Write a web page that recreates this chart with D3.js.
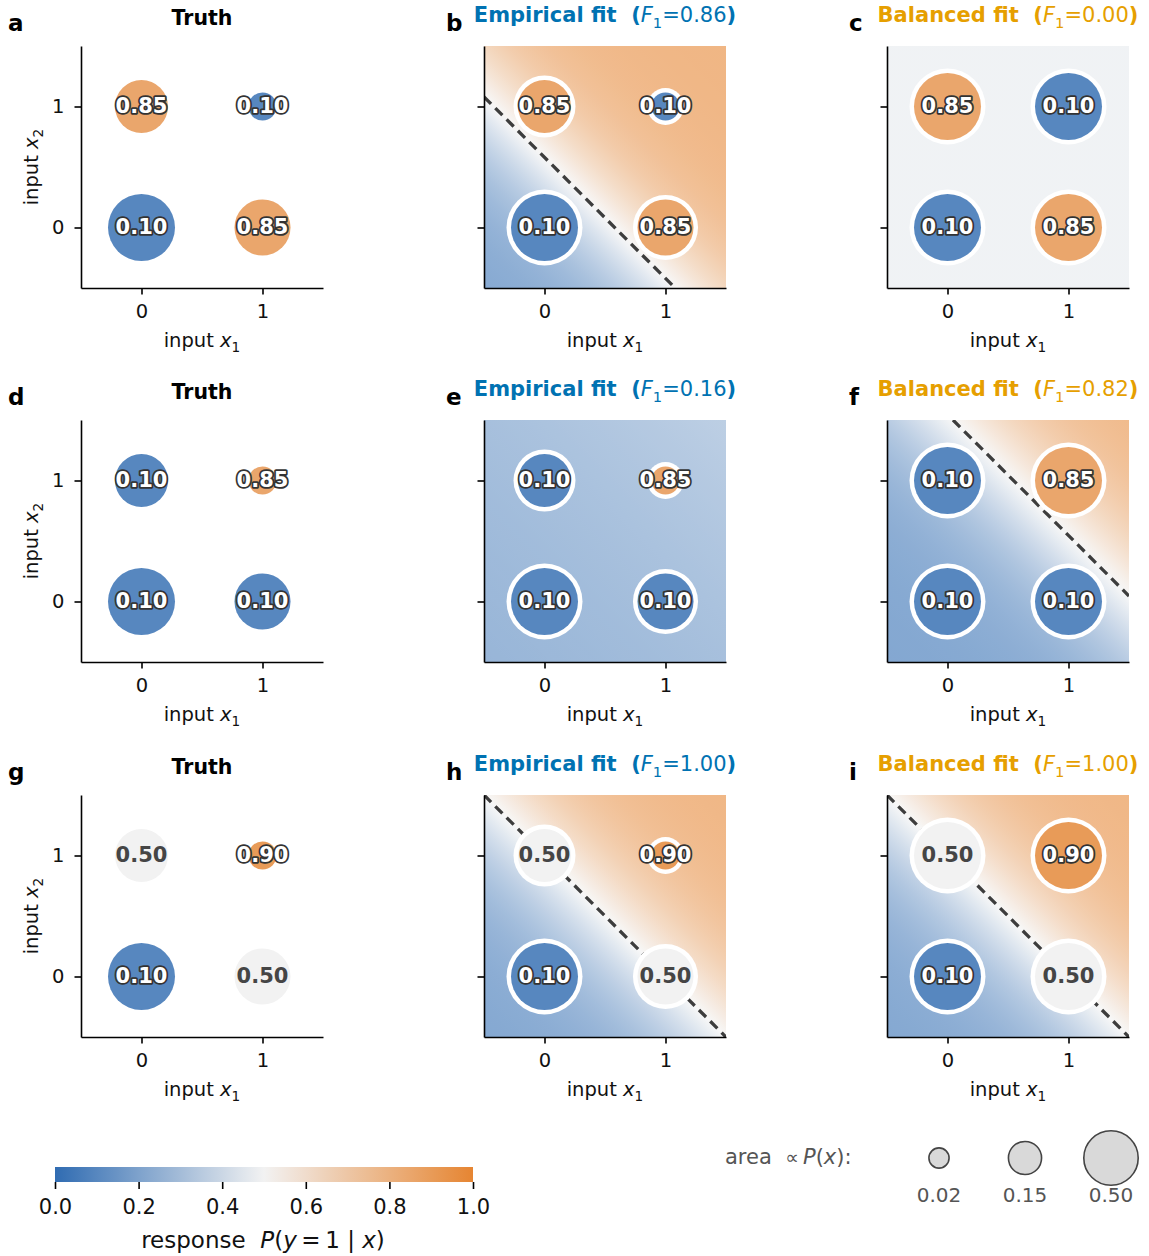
<!DOCTYPE html>
<html>
<head>
<meta charset="utf-8">
<script src="https://cdn.jsdelivr.net/npm/d3@7"></script>
<style>
  body { margin: 0; background: #fff; }
  svg text { font-family: "DejaVu Sans", sans-serif; white-space: pre; }
</style>
</head>
<body>
<svg id="chart" width="1149" height="1256"></svg>
<script>
// ---- data -------------------------------------------------------------
// the four input cells (x1, x2)
const cellX1 = [0, 0, 1, 1];
const cellX2 = [0, 1, 0, 1];
// input distribution P(x) for each cell
const cellWeight = [0.40, 0.25, 0.28, 0.07];
// true response P(y=1 | x) per cell, one array per scenario row
const truthRow1 = [0.10, 0.85, 0.85, 0.10];
const truthRow2 = [0.10, 0.10, 0.10, 0.85];
const truthRow3 = [0.10, 0.50, 0.50, 0.90];
const truthRows = [truthRow1, truthRow2, truthRow3];

const panelLetters = [["a", "b", "c"], ["d", "e", "f"], ["g", "h", "i"]];
const fitNames = ["Empirical fit", "Balanced fit"];
const fitColors = ["#0072B2", "#E69F00"];
// logistic fits p = sigmoid(intercept + slope * (x1 + x2)), per row: [empirical, balanced]
const fitIntercept = [[-1.45, -0.12], [-2.0, -3.4], [-2.3, -2.3]];
const fitSlope = [[2.5, 0.0], [0.3, 2.2], [2.3, 2.3]];
const fitF1 = [[0.86, 0.00], [0.16, 0.82], [1.00, 1.00]];

// colour bar and size legend
const colorTicks = [0, 0.2, 0.4, 0.6, 0.8, 1.0];
const sizeLegendValues = [0.02, 0.15, 0.50];

// ---- helpers ----------------------------------------------------------
const svg = d3.select("#chart");
const defs = svg.append("defs");
const cmap = d3.scaleLinear()
  .domain([0, 0.5, 1])
  .range(["rgb(48,108,178)", "rgb(242,242,242)", "rgb(230,133,50)"]);
const sigmoid = z => 1 / (1 + Math.exp(-z));

function rich(sel, parts, size) {
  let shift = 0;
  parts.forEach(p => {
    const ts = sel.append("tspan").text(p.t);
    if (p.italic) ts.attr("font-style", "italic");
    if (p.weight) ts.attr("font-weight", p.weight);
    const target = p.sub ? size * 0.28 : 0;
    if (target !== shift) { ts.attr("dy", target - shift); shift = target; }
    if (p.sub) ts.attr("font-size", size * 0.7);
  });
}

// ---- layout -----------------------------------------------------------
const colLeft = [81, 484, 887];
const rowTop = [46, 420, 795];
const side = 242;
const rMax = 33.5;
const tickFont = 19.5;

truthRows.forEach((truth, r) => {
  colLeft.forEach((L, c) => {
    const T = rowTop[r];
    const x = d3.scaleLinear().domain([-0.5, 1.5]).range([L, L + side]);
    const y = d3.scaleLinear().domain([-0.5, 1.5]).range([T + side, T]);
    const g = svg.append("g");
    const isFit = c > 0;
    const f = c - 1;

    const clipId = `clip-${r}-${c}`;
    defs.append("clipPath").attr("id", clipId)
      .append("rect").attr("x", x(-0.5)).attr("y", y(1.5))
      .attr("width", x(1.5) - x(-0.5)).attr("height", y(-0.5) - y(1.5));

    if (isFit) {
      const a = fitIntercept[r][f], k = fitSlope[r][f];
      // model response field varies only with x1 + x2: diagonal gradient
      const gid = `field-${r}-${c}`;
      const grad = defs.append("linearGradient").attr("id", gid)
        .attr("gradientUnits", "userSpaceOnUse")
        .attr("x1", x(-0.5)).attr("y1", y(-0.5))
        .attr("x2", x(1.5)).attr("y2", y(1.5));
      d3.range(0, 61).forEach(i => {
        const s = -1 + 4 * i / 60;
        grad.append("stop").attr("offset", i / 60)
          .attr("stop-color", cmap(sigmoid(a + k * s)));
      });
      g.append("rect")
        .attr("x", x(-0.5)).attr("y", y(1.5))
        .attr("width", x(1.5) - x(-0.5)).attr("height", y(-0.5) - y(1.5))
        .attr("fill", `url(#${gid})`).attr("opacity", 0.6);

      // decision boundary p = 0.5
      if (k > 0) {
        const s0 = -a / k;
        const xa = Math.max(-0.5, s0 - 1.5), xb = Math.min(1.5, s0 + 0.5);
        if (xa < xb) {
          g.append("line")
            .attr("clip-path", `url(#${clipId})`)
            .attr("x1", x(xa)).attr("y1", y(s0 - xa))
            .attr("x2", x(xb)).attr("y2", y(s0 - xb))
            .attr("stroke", "#3d3d3d").attr("stroke-width", 3.3)
            .attr("stroke-dasharray", "10,6");
        }
      }
    }

    // circles: area proportional to the weight used by each fit
    const weights = (isFit && f === 1) ? cellWeight.map(() => 0.25) : cellWeight;
    const wMax = d3.max(weights);
    const rad = d3.scaleSqrt().domain([0, wMax]).range([0, rMax]);
    const cells = d3.range(4).map(i => ({
      x1: cellX1[i], x2: cellX2[i], p: truth[i], w: weights[i]
    }));
    const pts = g.selectAll("g.cell").data(cells).join("g")
      .attr("class", "cell")
      .attr("transform", d => `translate(${x(d.x1)},${y(d.x2)})`);
    if (isFit) {
      pts.append("circle").attr("r", d => rad(d.w) + 4.5).attr("fill", "#fff");
    }
    pts.append("circle").attr("r", d => rad(d.w)).attr("fill", d => cmap(d.p));
    pts.append("text")
      .attr("text-anchor", "middle").attr("dy", "0.33em")
      .attr("font-size", 21).attr("font-weight", "bold")
      .attr("fill", d => Math.abs(d.p - 0.5) < 0.05 ? "#454545" : "#fff")
      .attr("stroke", d => Math.abs(d.p - 0.5) < 0.05 ? "none" : "#333")
      .attr("stroke-width", 3.6).attr("stroke-linejoin", "round")
      .attr("paint-order", "stroke")
      .text(d => d.p.toFixed(2));

    // axes
    const xAxis = d3.axisBottom(x).tickValues([0, 1]).tickSize(6.5)
      .tickSizeOuter(0).tickPadding(10).tickFormat(d3.format("d"));
    const yAxis = d3.axisLeft(y).tickValues([0, 1]).tickSize(6.5)
      .tickSizeOuter(0).tickPadding(10)
      .tickFormat(isFit ? () => "" : d3.format("d"));
    const gx = g.append("g").attr("transform", `translate(0,${T + side})`).call(xAxis);
    const gy = g.append("g").attr("transform", `translate(${L},0)`).call(yAxis);
    [gx, gy].forEach(ax => {
      ax.attr("font-family", null).attr("font-size", null);
      ax.select(".domain").attr("stroke", "#000").attr("stroke-width", 1.6);
      ax.selectAll(".tick line").attr("stroke", "#000").attr("stroke-width", 1.6);
      ax.selectAll(".tick text").attr("font-size", tickFont).attr("fill", "#111");
    });

    // axis labels
    const xl = g.append("text").attr("x", (x(-0.5) + x(1.5)) / 2).attr("y", T + side + 59)
      .attr("text-anchor", "middle").attr("font-size", 19.5).attr("fill", "#111");
    rich(xl, [{t: "input "}, {t: "x", italic: true}, {t: "1", sub: true}], 19.5);
    if (!isFit) {
      const yl = g.append("text")
        .attr("transform", `translate(38,${(y(-0.5) + y(1.5)) / 2}) rotate(-90)`)
        .attr("text-anchor", "middle").attr("font-size", 19.5).attr("fill", "#111");
      rich(yl, [{t: "input "}, {t: "x", italic: true}, {t: "2", sub: true}], 19.5);
    }

    // titles
    const cx = (x(-0.5) + x(1.5)) / 2;
    if (!isFit) {
      g.append("text").attr("x", cx).attr("y", T - 21)
        .attr("text-anchor", "middle").attr("font-size", 20.5)
        .attr("font-weight", "bold").attr("fill", "#000").text("Truth");
    } else {
      const tt = g.append("text").attr("x", cx).attr("y", T - 24)
        .attr("text-anchor", "middle").attr("font-size", 21)
        .attr("fill", fitColors[f]);
      rich(tt, [
        {t: fitNames[f] + "  (", weight: "bold"},
        {t: "F", italic: true},
        {t: "1", sub: true},
        {t: "=" + fitF1[r][f].toFixed(2)},
        {t: ")", weight: "bold"}
      ], 21);
    }

    // panel letter
    g.append("text").attr("x", c === 0 ? L - 73 : L - 38).attr("y", T - 15)
      .attr("font-size", 23).attr("font-weight", "bold").attr("fill", "#000")
      .text(panelLetters[r][c]);
  });
});

// ---- colour bar -------------------------------------------------------
const cbX = d3.scaleLinear().domain([0, 1]).range([55, 473]);
const cbTop = 1167, cbH = 15;
const cbGrad = defs.append("linearGradient").attr("id", "cbar")
  .attr("x1", "0%").attr("x2", "100%").attr("y1", "0%").attr("y2", "0%");
d3.range(0, 21).forEach(i => {
  cbGrad.append("stop").attr("offset", i / 20).attr("stop-color", cmap(i / 20));
});
svg.append("rect").attr("x", cbX(0)).attr("y", cbTop)
  .attr("width", cbX(1) - cbX(0)).attr("height", cbH).attr("fill", "url(#cbar)");
const cbAxis = svg.append("g").attr("transform", `translate(0,${cbTop + cbH})`)
  .call(d3.axisBottom(cbX).tickValues(colorTicks).tickSize(7).tickSizeOuter(0)
    .tickPadding(10).tickFormat(d3.format(".1f")));
cbAxis.attr("font-family", null).attr("font-size", null);
cbAxis.select(".domain").remove();
cbAxis.selectAll(".tick line").attr("stroke", "#000").attr("stroke-width", 1.6);
cbAxis.selectAll(".tick text").attr("font-size", 21).attr("fill", "#111");
const cbl = svg.append("text").attr("x", (cbX(0) + cbX(1)) / 2 - 1).attr("y", 1248)
  .attr("text-anchor", "middle").attr("font-size", 23).attr("fill", "#111");
rich(cbl, [
  {t: "response  "}, {t: "P", italic: true}, {t: "("}, {t: "y", italic: true},
  {t: "\u2009=\u20091 | "}, {t: "x", italic: true}, {t: ")"}
], 23);

// ---- size legend ------------------------------------------------------
const lg = svg.append("g");
const lgt = lg.append("text").attr("x", 725).attr("y", 1164)
  .attr("font-size", 21).attr("fill", "#555");
lgt.append("tspan").text("area  ");
lgt.append("tspan").attr("font-size", 19).text("∝");
lgt.append("tspan").text("\u2009");
lgt.append("tspan").attr("font-style", "italic").text("P");
lgt.append("tspan").text("(");
lgt.append("tspan").attr("font-style", "italic").text("x");
lgt.append("tspan").text("):");
const lgX = d3.scalePoint().domain(sizeLegendValues).range([939, 1111]);
const lgArea = d3.scaleLinear().domain([0, 0.5]).range([75, 740]);
const lgItems = lg.selectAll("g.item").data(sizeLegendValues).join("g")
  .attr("class", "item")
  .attr("transform", d => `translate(${lgX(d)},0)`);
lgItems.append("circle").attr("cy", 1158).attr("r", d => Math.sqrt(lgArea(d)))
  .attr("fill", "#d9d9d9").attr("stroke", "#444").attr("stroke-width", 1.6);
lgItems.append("text").attr("y", 1202).attr("text-anchor", "middle")
  .attr("font-size", 20).attr("fill", "#555").text(d => d.toFixed(2));
</script>
</body>
</html>
